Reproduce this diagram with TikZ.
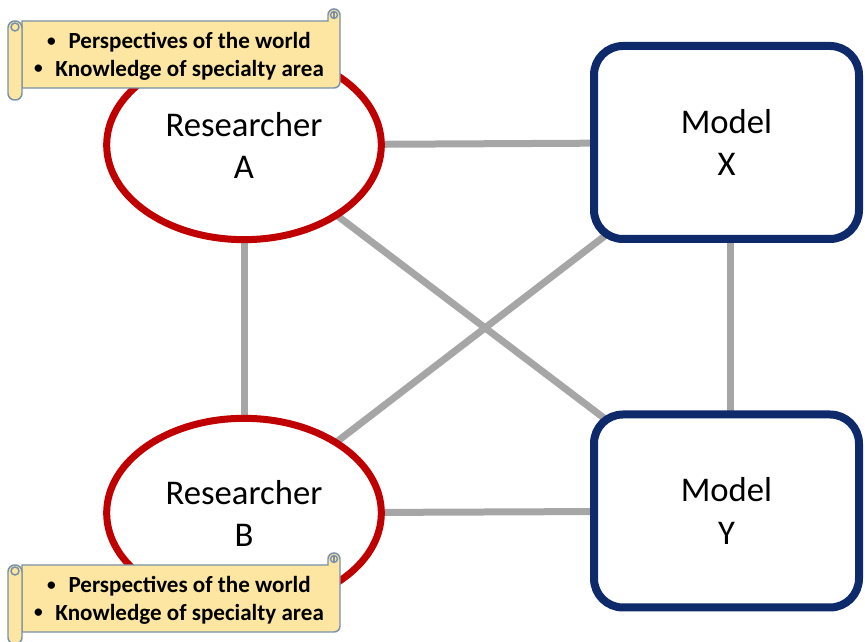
\documentclass[tikz,border=0pt]{standalone}
\usepackage{fontspec}
\setmainfont{Carlito}
\usetikzlibrary{shapes.geometric,backgrounds}

\definecolor{resred}{HTML}{C00000}
\definecolor{modelblue}{HTML}{0E2A6B}
\definecolor{linkgray}{HTML}{A6A6A6}
\definecolor{scrollfill}{HTML}{FCE6A2}
\definecolor{scrolledge}{HTML}{7890A8}

\newcommand\scrollbullet{\raisebox{0.12em}{\fontsize{13}{13}\selectfont•}\hspace{0.55em}}

\tikzset{
  researcher/.style={ellipse, draw=resred, line width=5.25pt, fill=white,
    minimum width=206pt, minimum height=142pt, inner sep=0pt,
    align=center, font=\fontsize{26}{31.5}\selectfont},
  model/.style={rectangle, rounded corners=21.75pt, draw=modelblue, line width=6pt,
    fill=white, minimum width=198.75pt, minimum height=144.75pt,
    align=center, font=\fontsize{26}{32}\selectfont},
  link/.style={draw=linkgray, line width=5.25pt},
  scrollline/.style={draw=scrolledge, fill=scrollfill, line width=1.1pt},
  scrolltext/.style={align=center, font=\bfseries\fontsize{17.3}{20.5}\selectfont},
  scrollbanner/.pic={
    % body with the roll at its top right
    \filldraw[scrollline] (0,0) -- (312,0)
      arc[start angle=-90, end angle=0, radius=4.5pt] -- (318,73)
      arc[start angle=0, end angle=180, radius=4.5pt] -- (306,67) -- (0,67) -- cycle;
    \draw[scrolledge, line width=1.1pt] (312,73) circle[radius=2.6pt];
    \draw[scrolledge, line width=0.9pt] (312,70) -- (312,76);
    % roll on the left side
    \filldraw[scrollline, rounded corners=5pt] (-14,-12) rectangle (0,67);
    \draw[scrolledge, line width=1.1pt] (-7,61) circle[radius=3pt];
    % the two bullet points
    \node[scrolltext] (text) at (157,31.5)
      {\scrollbullet Perspectives of the world\\
       \scrollbullet Knowledge of specialty area};
  }
}

\begin{document}
\begin{tikzpicture}[x=0.75pt, y=0.75pt]
  \useasboundingbox (0,0) rectangle (865,642);

  % researchers and models
  \node[researcher] (A) at (244,497) {Researcher\\A};
  \node[researcher] (B) at (244,129) {Researcher\\B};
  \node[model] (X) at (726.5,499.5) {Model\\X};
  \node[model] (Y) at (726.5,131) {Model\\Y};

  % gray links, kept behind the shapes
  \begin{scope}[on background layer]
    \draw[link] (A.center) -- (X.center);
    \draw[link] (B.center) -- (Y.center);
    \draw[link] (A.center) -- (B.center);
    \draw[link] ([xshift=3pt]X.center) -- ([xshift=3pt]Y.center);
    \draw[link] (A.center) -- (Y.center);
    \draw[link] (B.center) -- (X.center);
  \end{scope}

  % banners with the researchers' background
  \pic (top) at (22,554) {scrollbanner};
  \pic (bottom) at (22,10) {scrollbanner};
\end{tikzpicture}
\end{document}
